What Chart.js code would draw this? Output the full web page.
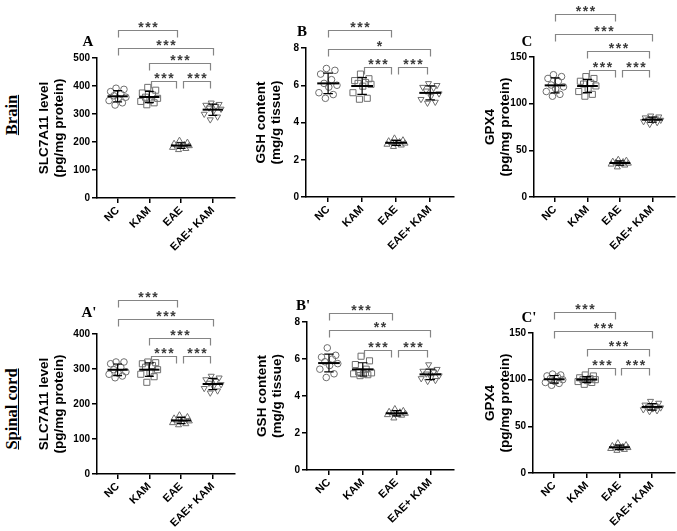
<!DOCTYPE html>
<html><head><meta charset="utf-8">
<script src="https://cdn.jsdelivr.net/npm/chart.js@4"></script>
<style>
html,body{margin:0;padding:0;background:#fff;}
#wrap{position:relative;width:677px;height:531px;overflow:hidden;background:#fff;}
canvas{position:absolute;}
.side{position:absolute;font:bold 16.5px "Liberation Serif","Times New Roman",serif;text-decoration:underline;transform:translate(-50%,-50%) rotate(-90deg);white-space:nowrap;color:#000;}
</style></head>
<body><div id="wrap">
<div class="side" style="left:12px;top:115px">Brain</div>
<div class="side" style="left:12px;top:409px">Spinal cord</div>
<canvas id="cA"></canvas><canvas id="cB"></canvas><canvas id="cC"></canvas>
<canvas id="cA2"></canvas><canvas id="cB2"></canvas><canvas id="cC2"></canvas>
</div>
<script>
// ---------- data ----------
const categories = ['NC', 'KAM', 'EAE', 'EAE+ KAM'];
const jitter = [-0.05, 0.2, -0.22, 0.1, -0.12, 0.26, 0.02, -0.27, 0.15, -0.08];

const brainSLC7A11 = [
  [392, 388, 380, 372, 365, 360, 355, 348, 340, 332],
  [395, 385, 375, 368, 360, 356, 350, 345, 340, 333],
  [205, 198, 194, 190, 188, 186, 184, 180, 176, 172],
  [340, 335, 332, 328, 322, 318, 310, 300, 290, 280]
];
const brainGSH = [
  [6.9, 6.8, 6.6, 6.3, 6.1, 6.0, 5.9, 5.6, 5.5, 5.3],
  [6.6, 6.35, 6.25, 6.15, 6.1, 6.05, 5.95, 5.6, 5.3, 5.25],
  [3.15, 3.05, 3.0, 2.95, 2.92, 2.88, 2.85, 2.82, 2.78, 2.7],
  [6.1, 6.0, 5.9, 5.85, 5.7, 5.55, 5.4, 5.25, 5.1, 5.05]
];
const brainGPX4 = [
  [131, 129, 127, 124, 120, 118, 116, 113, 110, 108],
  [129, 127, 124, 122, 121, 119, 116, 113, 110, 108],
  [40, 39, 38, 37.5, 37, 36, 35.5, 35, 34, 32],
  [87, 86, 85, 84, 83, 82.5, 82, 81, 80, 78]
];
const spinalSLC7A11 = [
  [320, 320, 315, 305, 298, 292, 288, 285, 280, 275],
  [320, 318, 315, 310, 305, 298, 290, 285, 278, 262],
  [168, 163, 159, 156, 153, 151, 149, 146, 143, 140],
  [280, 275, 270, 265, 260, 256, 250, 245, 238, 232]
];
const spinalGSH = [
  [6.6, 6.2, 6.1, 6.0, 5.85, 5.75, 5.65, 5.45, 5.2, 5.0],
  [6.15, 5.9, 5.7, 5.45, 5.3, 5.25, 5.2, 5.2, 5.15, 5.1],
  [3.3, 3.2, 3.15, 3.12, 3.1, 3.05, 3.0, 2.98, 2.95, 2.8],
  [5.7, 5.45, 5.35, 5.3, 5.2, 5.1, 5.0, 4.95, 4.85, 4.8]
];
const spinalGPX4 = [
  [106, 105, 104, 103, 101, 100, 98, 97, 96, 94],
  [105, 104, 102, 101, 100, 100, 99, 98, 97, 95],
  [32, 30, 29, 28, 27.5, 27, 26.5, 26, 25, 24],
  [77, 75, 73, 72, 71, 70, 69, 68, 67, 66]
];

const ticksSLCBrain = [0, 100, 200, 300, 400, 500];
const ticksSLCSpinal = [0, 100, 200, 300, 400];
const ticksGSH = [0, 2, 4, 6, 8];
const ticksGPX4 = [0, 50, 100, 150];

// significance brackets: [from group, to group, level (axis units), label]
const sigBrainSLC7A11 = [[0, 1.86, 601, '***'], [0, 3, 536, '***'], [1, 2.9, 482, '***'], [1.05, 1.85, 417, '***'], [2.05, 2.9, 417, '***']];
const sigBrainGSH = [[0, 1.86, 8.95, '***'], [0, 3, 7.97, '*'], [1.05, 1.85, 6.98, '***'], [2.05, 2.9, 6.98, '***']];
const sigBrainGPX4 = [[0, 1.86, 195.8, '***'], [0, 3, 175, '***'], [1, 2.9, 156.4, '***'], [1.05, 1.85, 135.7, '***'], [2.05, 2.9, 135.7, '***']];
const sigSpinalSLC7A11 = [[0, 1.86, 496, '***'], [0, 3, 443, '***'], [1, 2.9, 388.6, '***'], [1.05, 1.85, 338, '***'], [2.05, 2.9, 338, '***']];
const sigSpinalGSH = [[0, 1.86, 8.48, '***'], [0, 3, 7.55, '**'], [1.05, 1.85, 6.47, '***'], [2.05, 2.9, 6.47, '***']];
const sigSpinalGPX4 = [[0, 1.86, 172.5, '***'], [0, 3, 152.1, '***'], [1, 2.9, 133.3, '***'], [1.05, 1.85, 112.9, '***'], [2.05, 2.9, 112.9, '***']];

// ---------- drawing ----------
const mean = a => a.reduce((s, v) => s + v, 0) / a.length;
const sdev = a => { const m = mean(a); return Math.sqrt(a.reduce((s, v) => s + (v - m) * (v - m), 0) / (a.length - 1)); };

const SANS = '"Liberation Sans", Arial, sans-serif';
const SERIF = '"Liberation Serif", "Times New Roman", serif';
const markerStyles = [
  {style: 'circle', r: 3.3, rot: 0},
  {style: 'rect', r: 4.3, rot: 0},
  {style: 'triangle', r: 3.5, rot: 0},
  {style: 'triangle', r: 3.5, rot: 180}
];

function makePanel(p) {
  const cv = document.getElementById(p.id);
  cv.width = p.w; cv.height = p.h;
  cv.style.left = p.x + 'px'; cv.style.top = p.y + 'px';
  cv.style.width = p.w + 'px'; cv.style.height = p.h + 'px';

  const datasets = p.values.map((vals, g) => ({
    data: vals.map((v, k) => ({x: g + jitter[k], y: v})),
    pointStyle: markerStyles[g].style,
    pointRadius: markerStyles[g].r,
    pointRotation: markerStyles[g].rot,
    pointBorderColor: '#6e6e6e',
    pointBackgroundColor: 'rgba(0,0,0,0)',
    pointBorderWidth: 1,
    showLine: false
  }));

  const decor = {
    id: 'decor' + p.id,
    afterDatasetsDraw(chart) {
      const ctx = chart.ctx, xs = chart.scales.x, ys = chart.scales.y;
      ctx.save();
      ctx.strokeStyle = '#000';
      p.values.forEach((vals, g) => {
        const m = mean(vals), s = sdev(vals);
        const xc = xs.getPixelForValue(g);
        const hw = xs.getPixelForValue(g + 0.32) - xc;
        const cw = xs.getPixelForValue(g + 0.14) - xc;
        const ym = ys.getPixelForValue(m), yt = ys.getPixelForValue(m + s), yb = ys.getPixelForValue(m - s);
        ctx.lineWidth = 2;
        ctx.beginPath(); ctx.moveTo(xc - hw, ym); ctx.lineTo(xc + hw, ym); ctx.stroke();
        ctx.lineWidth = 1.2;
        ctx.beginPath();
        ctx.moveTo(xc, yt); ctx.lineTo(xc, yb);
        ctx.moveTo(xc - cw, yt); ctx.lineTo(xc + cw, yt);
        ctx.moveTo(xc - cw, yb); ctx.lineTo(xc + cw, yb);
        ctx.stroke();
      });
      ctx.restore();
    },
    afterDraw(chart) {
      const ctx = chart.ctx, xs = chart.scales.x, ys = chart.scales.y, ca = chart.chartArea;
      ctx.save();
      p.sig.forEach(([a, b, v, t]) => {
        const x1 = Math.round(xs.getPixelForValue(a)) + 0.5;
        const x2 = Math.round(xs.getPixelForValue(b)) + 0.5;
        const y = Math.round(ys.getPixelForValue(v)) + 0.5;
        ctx.strokeStyle = '#858585'; ctx.lineWidth = 1.2;
        ctx.beginPath(); ctx.moveTo(x1, y + 7); ctx.lineTo(x1, y); ctx.lineTo(x2, y); ctx.lineTo(x2, y + 7); ctx.stroke();
        ctx.fillStyle = '#3c3c3c';
        ctx.font = 'bold 14px ' + SANS;
        if ('letterSpacing' in ctx) ctx.letterSpacing = '1.5px';
        ctx.textAlign = 'center'; ctx.textBaseline = 'alphabetic';
        ctx.fillText(t, (x1 + x2) / 2 + 0.75, y + 1);
        if ('letterSpacing' in ctx) ctx.letterSpacing = '0px';
      });
      ctx.fillStyle = '#000';
      ctx.font = 'bold 15px ' + SERIF;
      ctx.textAlign = 'center'; ctx.textBaseline = 'middle';
      ctx.fillText(p.letter, ca.left + p.lx, ca.top + p.ly);
      ctx.restore();
    }
  };

  new Chart(cv, {
    type: 'scatter',
    data: {datasets},
    options: {
      responsive: false, animation: false, devicePixelRatio: 1,
      layout: {padding: {left: 0, right: 6, top: p.padTop, bottom: 0}},
      plugins: {legend: {display: false}, tooltip: {enabled: false}},
      scales: {
        x: {
          type: 'linear', min: -0.65, max: 3.7,
          afterBuildTicks: s => { s.ticks = categories.map((c, i) => ({value: i})); },
          afterFit: s => { s.height = p.xH; },
          ticks: {
            callback: v => categories[v] !== undefined ? categories[v] : '',
            autoSkip: false, minRotation: 45, maxRotation: 45, padding: 1,
            color: '#000', font: {family: SANS, size: 11, weight: 'bold'}
          },
          grid: {drawOnChartArea: false, drawTicks: true, tickLength: 5, color: '#000', lineWidth: 1.5},
          border: {display: true, color: '#000', width: 1.5}
        },
        y: {
          type: 'linear', min: 0, max: p.yMax,
          afterBuildTicks: s => { s.ticks = p.ticks.map(v => ({value: v})); },
          afterFit: s => { s.width = p.yW; },
          ticks: {color: '#000', padding: 2, font: {family: SANS, size: 10, weight: 'bold'}},
          grid: {drawOnChartArea: false, drawTicks: true, tickLength: 5, color: '#000', lineWidth: 1.5},
          border: {display: true, color: '#000', width: 1.5},
          title: {
            display: true, text: p.title, color: '#000',
            font: {family: SANS, size: 13.5, weight: 'bold', lineHeight: 1.1},
            padding: {top: p.titlePad, bottom: 0}
          }
        }
      }
    },
    plugins: [decor]
  });
}

const panels = [
  {id: 'cA', x: 0, y: 0, w: 241, h: 265, padTop: 58, xH: 67, yW: 97, titlePad: 37,
   title: ['SLC7A11 level', '(pg/mg protein)'], yMax: 500, ticks: ticksSLCBrain,
   values: brainSLC7A11, sig: sigBrainSLC7A11, letter: 'A', lx: -9, ly: -16},
  {id: 'cB', x: 236, y: 0, w: 224, h: 265, padTop: 48, xH: 68, yW: 70, titlePad: 17.6,
   title: ['GSH content', '(mg/g tissue)'], yMax: 8, ticks: ticksGSH,
   values: brainGSH, sig: sigBrainGSH, letter: 'B', lx: -4, ly: -16},
  {id: 'cC', x: 455, y: 0, w: 226, h: 265, padTop: 57, xH: 68, yW: 79, titlePad: 27.6,
   title: ['GPX4', '(pg/mg protein)'], yMax: 150, ticks: ticksGPX4,
   values: brainGPX4, sig: sigBrainGPX4, letter: 'C', lx: -7, ly: -15},
  {id: 'cA2', x: 0, y: 265, w: 241, h: 266, padTop: 69, xH: 57, yW: 97, titlePad: 36.6,
   title: ['SLC7A11 level', '(pg/mg protein)'], yMax: 400, ticks: ticksSLCSpinal,
   values: spinalSLC7A11, sig: sigSpinalSLC7A11, letter: "A'", lx: -8, ly: -21},
  {id: 'cB2', x: 236, y: 265, w: 224, h: 266, padTop: 57, xH: 61, yW: 71, titlePad: 18.6,
   title: ['GSH content', '(mg/g tissue)'], yMax: 8, ticks: ticksGSH,
   values: spinalGSH, sig: sigSpinalGSH, letter: "B'", lx: -4, ly: -16},
  {id: 'cC2', x: 455, y: 265, w: 226, h: 266, padTop: 68, xH: 58, yW: 78, titlePad: 27.6,
   title: ['GPX4', '(pg/mg protein)'], yMax: 150, ticks: ticksGPX4,
   values: spinalGPX4, sig: sigSpinalGPX4, letter: "C'", lx: -4, ly: -15}
];
panels.forEach(makePanel);
</script>
</body></html>
